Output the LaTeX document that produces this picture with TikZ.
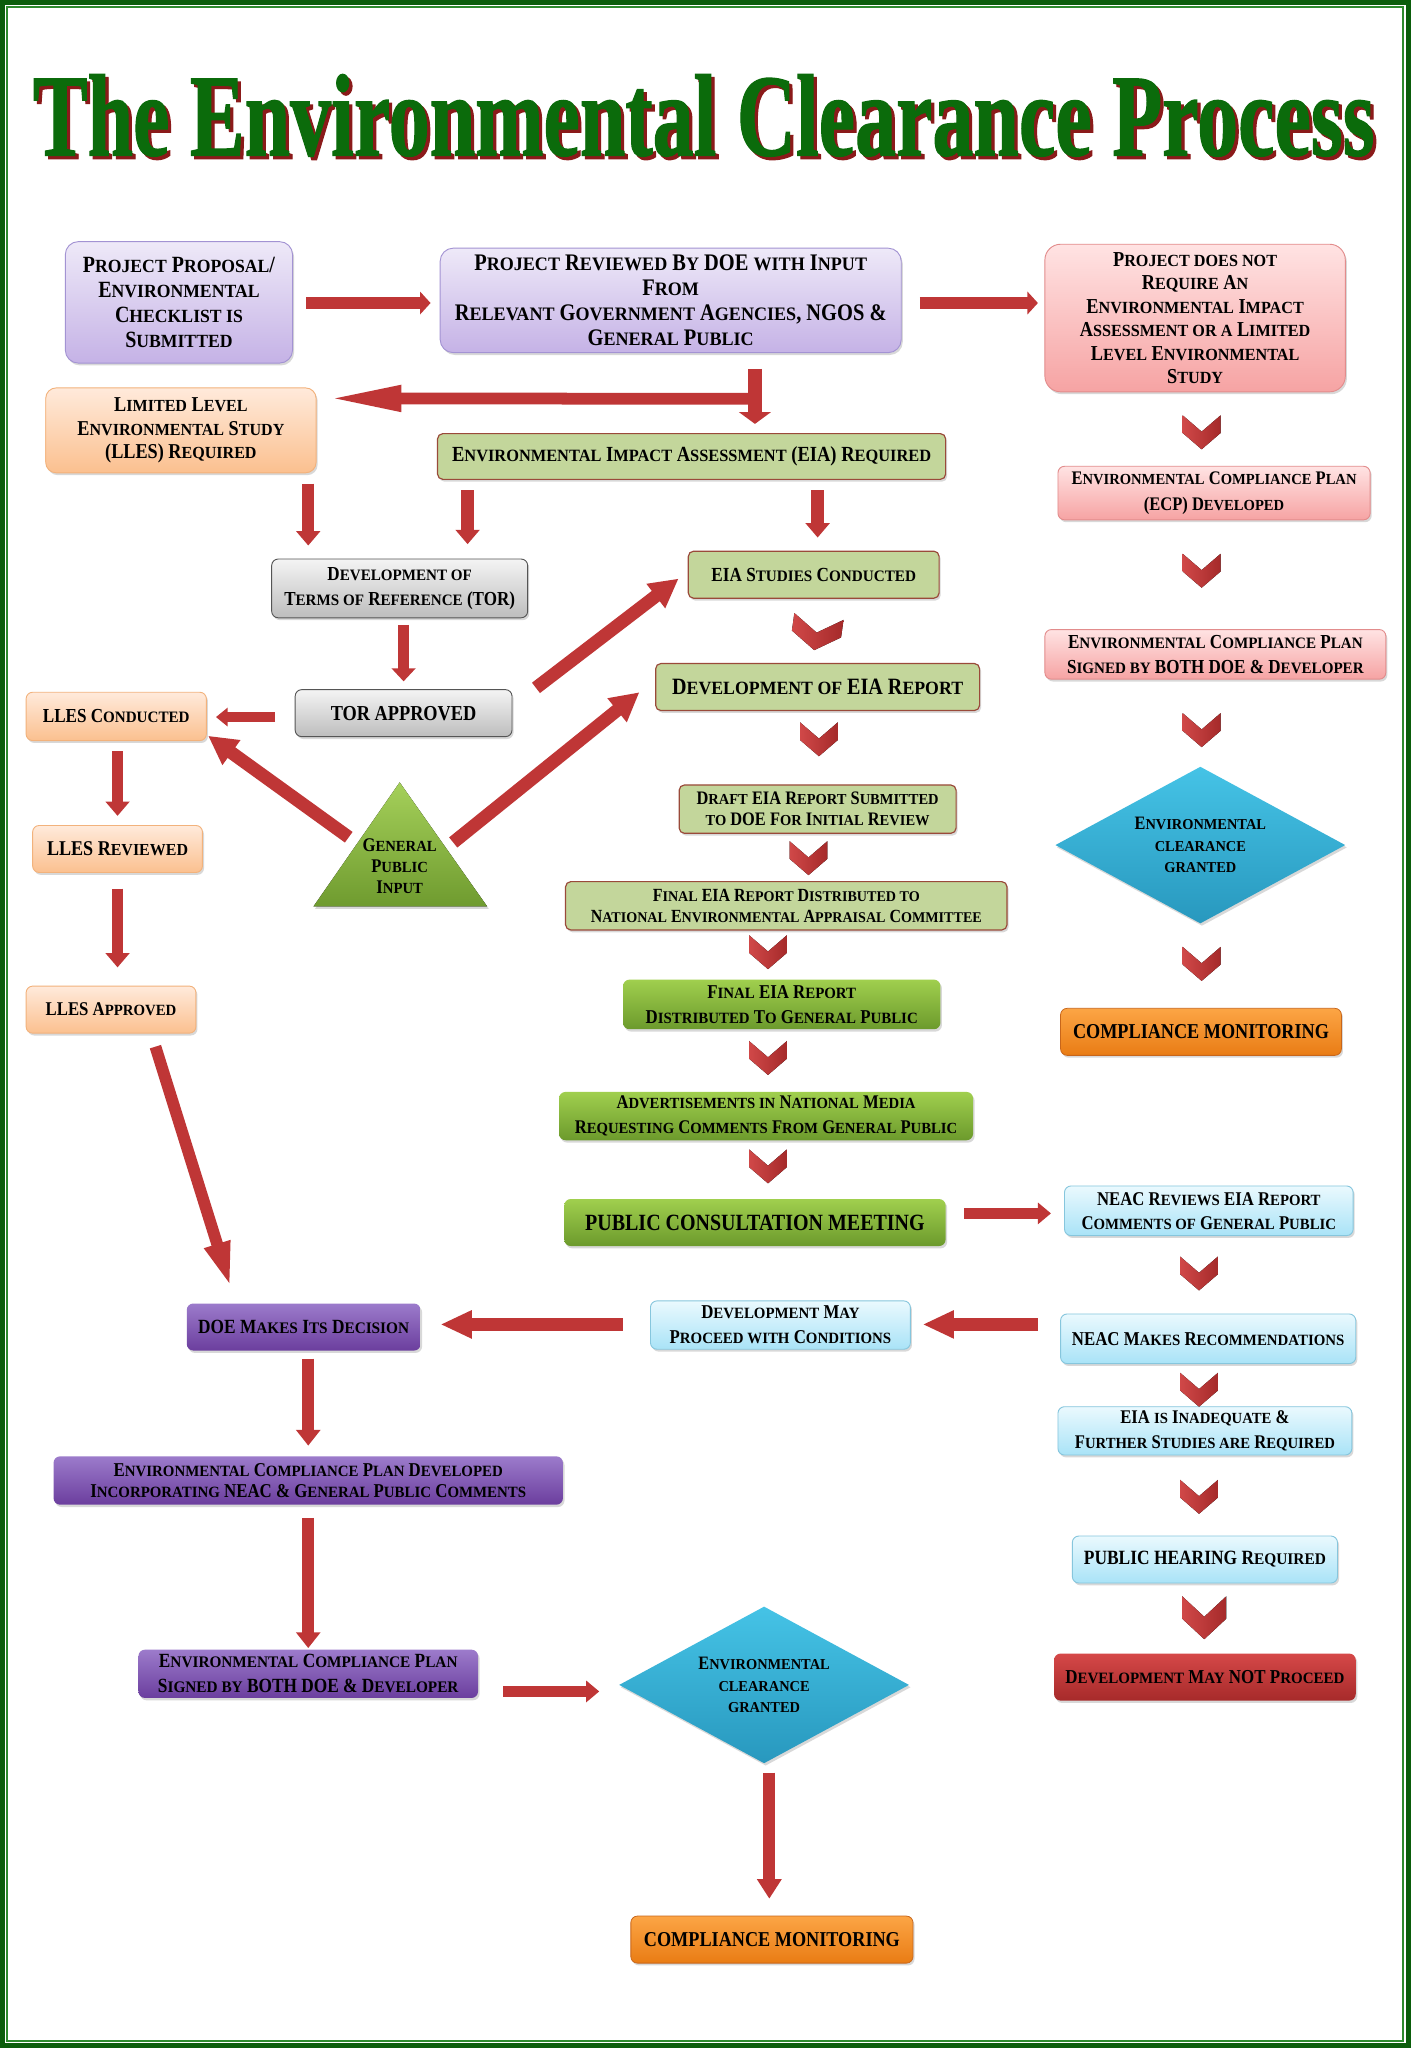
\documentclass[tikz,border=0pt]{standalone}
\usepackage{graphicx}
\usepackage{fontspec}
\setmainfont{Liberation Serif}[FakeStretch=0.86]
\newfontfamily\smfam{Liberation Serif}[FakeStretch=0.95]
\newfontfamily\titlefont{Liberation Serif}[FakeBold=1.2]
\usetikzlibrary{arrows.meta,calc,shapes.geometric,shadows}
\makeatletter
\newcommand\sk[1]{{\smfam\fontsize{\fpeval{0.8*\f@size}}{\f@baselineskip}\selectfont #1}}
\makeatother
\definecolor{frameG}{HTML}{0B5D0B}
\definecolor{frameL}{HTML}{2E8B2E}
\definecolor{titleG}{HTML}{0B6B0B}
\definecolor{titleR}{HTML}{8B1A1A}
\definecolor{purT}{HTML}{EEE9F8}
\definecolor{purB}{HTML}{C5B2E6}
\definecolor{purD}{HTML}{A393D3}
\definecolor{pinkT}{HTML}{FFE3E3}
\definecolor{pinkB}{HTML}{F6A3A3}
\definecolor{pinkD}{HTML}{E28C8C}
\definecolor{orLT}{HTML}{FFEADB}
\definecolor{orLB}{HTML}{FBC08F}
\definecolor{orLD}{HTML}{F2B27C}
\definecolor{grnL}{HTML}{C3D69B}
\definecolor{grnD}{HTML}{9A4A3A}
\definecolor{greyT}{HTML}{F4F4F4}
\definecolor{greyB}{HTML}{BDBDBD}
\definecolor{greyD}{HTML}{555555}
\definecolor{gbT}{HTML}{A0CF4E}
\definecolor{gbB}{HTML}{6C9A2C}
\definecolor{blT}{HTML}{EAF9FE}
\definecolor{blB}{HTML}{A9E3F7}
\definecolor{blD}{HTML}{86C6DD}
\definecolor{rdT}{HTML}{D54848}
\definecolor{rdB}{HTML}{A62A2A}
\definecolor{dpT}{HTML}{9C7BCB}
\definecolor{dpB}{HTML}{6B3E9E}
\definecolor{orT}{HTML}{FCA545}
\definecolor{orB}{HTML}{E97C14}
\definecolor{orD}{HTML}{C8661A}
\definecolor{diaT}{HTML}{45C3E6}
\definecolor{diaB}{HTML}{2898BE}
\definecolor{triT}{HTML}{A5D05A}
\definecolor{triB}{HTML}{6F9B2F}
\definecolor{arrC}{HTML}{BF3636}
\definecolor{chevL}{HTML}{D04848}
\definecolor{chevR}{HTML}{A52A2A}
\tikzset{
  bx/.style={rounded corners=5pt, align=center, inner sep=1pt, text=black,
    drop shadow={shadow xshift=1.2pt, shadow yshift=-1.8pt, opacity=0.3}},
  fsz/.style 2 args={font=\bfseries\fontsize{#1}{#2}\selectfont},
  pbox/.style={bx, top color=purT, bottom color=purB, draw=purD, line width=0.7pt},
  pkbox/.style={bx, top color=pinkT, bottom color=pinkB, draw=pinkD, line width=0.7pt},
  olbox/.style={bx, top color=orLT, bottom color=orLB, draw=orLD, line width=0.7pt},
  gbox/.style={bx, rounded corners=4pt, fill=grnL, draw=grnD, line width=0.9pt},
  grbox/.style={bx, top color=greyT, bottom color=greyB, draw=greyD, line width=0.7pt},
  gbbox/.style={bx, top color=gbT, bottom color=gbB},
  blbox/.style={bx, top color=blT, bottom color=blB, draw=blD, line width=0.7pt},
  rdbox/.style={bx, top color=rdT, bottom color=rdB},
  dpbox/.style={bx, top color=dpT, bottom color=dpB},
  orbox/.style={bx, top color=orT, bottom color=orB, draw=orD, line width=0.6pt},
  dia/.style={diamond, aspect=1.85, minimum width=222pt, minimum height=120pt, inner sep=0pt,
    align=center, top color=diaT, bottom color=diaB,
    drop shadow={shadow xshift=1.2pt, shadow yshift=-1.8pt, opacity=0.3}},
  barrow/.style n args={3}{draw=arrC, line width=#1, -{Triangle[width=#2, length=#3]}},
  chevw/.store in=\chevw, chevh/.store in=\chevh, chevw=29, chevh=26,
  chev/.pic={\fill[left color=chevL, right color=chevR]
     (-\chevw/2,0) -- (0,\chevh*0.48) -- (\chevw/2,0) -- (\chevw/2,\chevh*0.52) -- (0,\chevh) -- (-\chevw/2,\chevh*0.52) -- cycle;}
}
\begin{document}
\begin{tikzpicture}[x=1pt,y=-1pt]
\useasboundingbox (0,0) rectangle (1080,1568);
% frame
\fill[frameG] (0,0) rectangle (1080,1568);
\fill[white] (3.5,3.5) rectangle (1076.5,1564.5);
\draw[frameL, line width=1.3pt] (5.6,5.6) rectangle (1074.4,1562.4);
% title
\node[anchor=south west, inner sep=0pt, text=titleR] (tshadow) at (27.5,122.5)
  {\resizebox{1027pt}{62pt}{\titlefont\bfseries The Environmental Clearance Process}};
\node[anchor=south west, inner sep=0pt, text=titleG] (title) at (25,120)
  {\resizebox{1027pt}{62pt}{\titlefont\bfseries The Environmental Clearance Process}};
% row 1
\node[pbox, rounded corners=10pt, minimum width=174pt, minimum height=93pt, fsz={17.8}{19.3}] (n1) at (137,231.5)
  {P\sk{ROJECT} P\sk{ROPOSAL}/\\E\sk{NVIRONMENTAL}\\C\sk{HECKLIST IS}\\S\sk{UBMITTED}};
\node[pbox, rounded corners=10pt, minimum width=353pt, minimum height=80pt, fsz={18.2}{19.3}] (n2) at (513.5,230)
  {P\sk{ROJECT} R\sk{EVIEWED} B\sk{Y} DOE \sk{WITH} I\sk{NPUT}\\F\sk{ROM}\\R\sk{ELEVANT} G\sk{OVERNMENT} A\sk{GENCIES}, NGOS \&\\G\sk{ENERAL} P\sk{UBLIC}};
\node[pkbox, rounded corners=12pt, minimum width=230pt, minimum height=113pt, fsz={16.3}{18}] (n3) at (915,243.5)
  {P\sk{ROJECT DOES NOT}\\R\sk{EQUIRE} A\sk{N}\\E\sk{NVIRONMENTAL} I\sk{MPACT}\\A\sk{SSESSMENT OR A} L\sk{IMITED}\\L\sk{EVEL} E\sk{NVIRONMENTAL}\\S\sk{TUDY}};
% row 2
\node[olbox, rounded corners=8pt, minimum width=207pt, minimum height=65pt, fsz={16.2}{18}] (n4) at (138.5,329.5)
  {L\sk{IMITED} L\sk{EVEL}\\E\sk{NVIRONMENTAL} S\sk{TUDY}\\(LLES) R\sk{EQUIRED}};
\node[gbox, minimum width=389pt, minimum height=35pt, fsz={16.5}{18}] (n5) at (529.5,349.5)
  {E\sk{NVIRONMENTAL} I\sk{MPACT} A\sk{SSESSMENT} (EIA) R\sk{EQUIRED}};
\node[pkbox, minimum width=239pt, minimum height=41pt, fsz={14.7}{20}] (n28) at (929.5,377.5)
  {E\sk{NVIRONMENTAL} C\sk{OMPLIANCE} P\sk{LAN}\\(ECP) D\sk{EVELOPED}};
% row 3
\node[grbox, minimum width=196pt, minimum height=45pt, fsz={15.2}{19.5}] (n6) at (306,450.5)
  {D\sk{EVELOPMENT OF}\\T\sk{ERMS OF} R\sk{EFERENCE} (TOR)};
\node[gbox, minimum width=192pt, minimum height=36pt, fsz={15.3}{18}] (n7) at (623,440)
  {EIA S\sk{TUDIES} C\sk{ONDUCTED}};
\node[pkbox, minimum width=261pt, minimum height=38pt, fsz={15.2}{19}] (n29) at (930.5,501)
  {E\sk{NVIRONMENTAL} C\sk{OMPLIANCE} P\sk{LAN}\\S\sk{IGNED BY} BOTH DOE \& D\sk{EVELOPER}};
% row 4
\node[grbox, minimum width=166pt, minimum height=36pt, fsz={16.3}{18}] (n8) at (309,546)
  {TOR APPROVED};
\node[olbox, minimum width=138pt, minimum height=37pt, fsz={15.2}{18}] (n9) at (89,548.5)
  {LLES C\sk{ONDUCTED}};
\node[gbox, minimum width=248pt, minimum height=36pt, fsz={17.9}{19}] (n10) at (626,526)
  {D\sk{EVELOPMENT OF} EIA R\sk{EPORT}};
\node[olbox, minimum width=130pt, minimum height=36pt, fsz={16.1}{18}] (n11) at (90,650)
  {LLES R\sk{EVIEWED}};
\node[olbox, minimum width=130pt, minimum height=36pt, fsz={14.9}{18}] (n12) at (85,773)
  {LLES A\sk{PPROVED}};
% triangle
\fill[top color=triT, bottom color=triB, drop shadow={shadow xshift=1.2pt, shadow yshift=-1.8pt, opacity=0.3}]
  (306,599) -- (373,694) -- (240,694) -- cycle;
\node[align=center, inner sep=0pt, fsz={14.8}{16}] (gpi) at (306,663)
  {G\sk{ENERAL}\\P\sk{UBLIC}\\I\sk{NPUT}};
% centre column
\node[gbox, minimum width=212pt, minimum height=37pt, fsz={14.6}{16}] (n13) at (626,619.5)
  {D\sk{RAFT} EIA R\sk{EPORT} S\sk{UBMITTED}\\\sk{TO} DOE F\sk{OR} I\sk{NITIAL} R\sk{EVIEW}};
\node[gbox, minimum width=338pt, minimum height=37pt, fsz={14.2}{16}] (n14) at (602,693.5)
  {F\sk{INAL} EIA R\sk{EPORT} D\sk{ISTRIBUTED TO}\\N\sk{ATIONAL} E\sk{NVIRONMENTAL} A\sk{PPRAISAL} C\sk{OMMITTEE}};
\node[gbbox, minimum width=243pt, minimum height=38pt, fsz={15}{19}] (n15) at (598.5,769)
  {F\sk{INAL} EIA R\sk{EPORT}\\D\sk{ISTRIBUTED} T\sk{O} G\sk{ENERAL} P\sk{UBLIC}};
\node[gbbox, minimum width=317pt, minimum height=37pt, fsz={14.8}{19}] (n16) at (586.5,854.5)
  {A\sk{DVERTISEMENTS IN} N\sk{ATIONAL} M\sk{EDIA}\\R\sk{EQUESTING} C\sk{OMMENTS} F\sk{ROM} G\sk{ENERAL} P\sk{UBLIC}};
\node[gbbox, minimum width=292pt, minimum height=36pt, fsz={17.8}{19}] (n17) at (578,936)
  {PUBLIC CONSULTATION MEETING};
% right column
\node[dia, fsz={14.5}{16.5}] (d1) at (919,647)
  {E\sk{NVIRONMENTAL}\\\sk{CLEARANCE}\\\sk{GRANTED}};
\node[orbox, minimum width=215pt, minimum height=36pt, fsz={16.2}{18}] (n30) at (919.5,790)
  {COMPLIANCE MONITORING};
\node[blbox, minimum width=221pt, minimum height=38pt, fsz={14.9}{18.5}] (n18) at (925.5,927)
  {NEAC R\sk{EVIEWS} EIA R\sk{EPORT}\\C\sk{OMMENTS OF} G\sk{ENERAL} P\sk{UBLIC}};
\node[blbox, minimum width=226pt, minimum height=38pt, fsz={15}{18}] (n19) at (925,1025)
  {NEAC M\sk{AKES} R\sk{ECOMMENDATIONS}};
\node[blbox, minimum width=225pt, minimum height=37pt, fsz={14.8}{19}] (n20) at (922.5,1095.5)
  {EIA \sk{IS} I\sk{NADEQUATE} \&\\F\sk{URTHER} S\sk{TUDIES ARE} R\sk{EQUIRED}};
\node[blbox, minimum width=203pt, minimum height=36pt, fsz={15.5}{18}] (n21) at (922.5,1194)
  {PUBLIC HEARING R\sk{EQUIRED}};
\node[rdbox, minimum width=231pt, minimum height=36pt, fsz={15.1}{18}] (n22) at (922.5,1284)
  {D\sk{EVELOPMENT} M\sk{AY} NOT P\sk{ROCEED}};
% lower part
\node[blbox, minimum width=199pt, minimum height=37pt, fsz={15}{19}] (n23) at (597.5,1014.5)
  {D\sk{EVELOPMENT} M\sk{AY}\\P\sk{ROCEED WITH} C\sk{ONDITIONS}};
\node[dpbox, minimum width=179pt, minimum height=36pt, fsz={15.4}{18}] (n24) at (232.5,1016)
  {DOE M\sk{AKES} I\sk{TS} D\sk{ECISION}};
\node[dpbox, minimum width=390pt, minimum height=37pt, fsz={15}{16.5}] (n25) at (236,1133.5)
  {E\sk{NVIRONMENTAL} C\sk{OMPLIANCE} P\sk{LAN} D\sk{EVELOPED}\\I\sk{NCORPORATING} NEAC \& G\sk{ENERAL} P\sk{UBLIC} C\sk{OMMENTS}};
\node[dpbox, minimum width=260pt, minimum height=37pt, fsz={15.4}{19}] (n26) at (236,1281.5)
  {E\sk{NVIRONMENTAL} C\sk{OMPLIANCE} P\sk{LAN}\\S\sk{IGNED BY} BOTH DOE \& D\sk{EVELOPER}};
\node[dia, fsz={14.5}{16.5}] (d2) at (585,1290)
  {E\sk{NVIRONMENTAL}\\\sk{CLEARANCE}\\\sk{GRANTED}};
\node[orbox, minimum width=216pt, minimum height=36pt, fsz={16.2}{18}] (n27) at (591,1485)
  {COMPLIANCE MONITORING};
% chevrons
\pic[chevw=38, rotate=-8] at (627,472) {chev};
\pic at (627,553) {chev};
\pic at (619,644) {chev};
\pic at (588,716) {chev};
\pic at (588,797) {chev};
\pic at (588,880) {chev};
\pic at (918,962) {chev};
\pic at (918,1051) {chev};
\pic at (918,1133) {chev};
\pic[chevw=34, chevh=33] at (922,1222) {chev};
\pic at (920,318) {chev};
\pic at (920,424) {chev};
\pic at (920,546) {chev};
\pic at (920,725) {chev};
% arrows
\draw[barrow={9pt}{17pt}{8pt}] ($(n1.east)+(10,0.5)$) -- ($(n1.east -| n2.west)+(-7,0.5)$);
\draw[barrow={9pt}{17pt}{8pt}] ($(n2.east)+(14,2)$) -- ($(n2.east -| n3.west)+(-5,2)$);
\draw[barrow={9pt}{18pt}{58pt}] ($(n2.south)+(64,35)$) -- ($(n4.east)+(7,-24.5)$);
\draw[barrow={11pt}{24pt}{9pt}] ($(n2.south)+(64.5,12)$) -- ($(n5.north)+(48.5,-7)$);
\draw[barrow={9.5pt}{18pt}{11pt}] ($(n4.south)+(97.5,8)$) -- ($(n6.north)+(-70,-10)$);
\draw[barrow={9.5pt}{18pt}{11pt}] ($(n5.south)+(-171.5,8)$) -- ($(n6.north)+(52,-11)$);
\draw[barrow={9.5pt}{18pt}{11pt}] ($(n5.south)+(96.5,8)$) -- ($(n7.north)+(3,-10)$);
\draw[barrow={9pt}{18pt}{10pt}] ($(n6.south)+(3,5)$) -- ($(n8.north)+(0,-6)$);
\draw[barrow={8pt}{14pt}{9pt}] ($(n8.west)+(-15,3)$) -- ($(n9.east)+(7,0.5)$);
\draw[barrow={10pt}{22pt}{22pt}] ($(n8.north east)+(18,-1)$) -- ($(n7.west)+(-7,3)$);
\draw[barrow={10pt}{22pt}{22pt}] ($(gpi)+(-39,-22)$) -- ($(n9.south east)+(1,-4)$);
\draw[barrow={10pt}{22pt}{22pt}] ($(gpi)+(41,-18)$) -- ($(n10.west)+(-12,4)$);
\draw[barrow={9pt}{18pt}{11pt}] ($(n9.south)+(1,8)$) -- ($(n11.north)+(0,-7)$);
\draw[barrow={9pt}{18pt}{11pt}] ($(n11.south)+(0,12)$) -- ($(n12.north)+(5,-14)$);
\draw[barrow={9pt}{18pt}{36pt}] ($(n12.south)+(34,10)$) -- ($(n24.north)+(-55.5,-11)$);
\draw[barrow={8pt}{16pt}{10pt}] ($(n17.east)+(14,-7)$) -- ($(n18.west)+(-10,2)$);
\draw[barrow={10pt}{20pt}{24pt}] ($(n19.west)+(-17,-11)$) -- ($(n23.east)+(9,-0.5)$);
\draw[barrow={10pt}{20pt}{24pt}] ($(n23.west)+(-21,-0.5)$) -- ($(n24.east)+(15,-2)$);
\draw[barrow={9pt}{18pt}{12pt}] ($(n24.south)+(3.5,6)$) -- ($(n25.north)+(0,-8)$);
\draw[barrow={9pt}{18pt}{12pt}] ($(n25.south)+(0,10)$) -- ($(n26.north)+(0,-1)$);
\draw[barrow={8pt}{16pt}{10pt}] ($(n26.east)+(19,13.5)$) -- ($(d2.west)+(-15,5)$);
\draw[barrow={9pt}{18pt}{15pt}] ($(d2.south)+(4,7)$) -- ($(n27.north)+(-2,-13)$);
\end{tikzpicture}
\end{document}
